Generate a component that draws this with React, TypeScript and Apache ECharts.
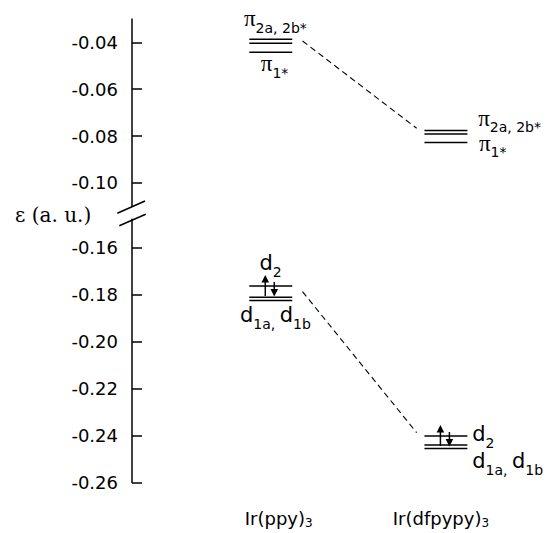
import React, { useEffect, useRef } from "react";
import * as echarts from "echarts";

// ---------- data ----------
const moleculeNames = ["Ir(ppy)", "Ir(dfpypy)"];
const moleculeSubscripts = ["3", "3"];
// π* levels (π2a, π2b, π1*) in a.u.
const piLevelsPpy = [-0.0387, -0.0404, -0.0442];
const piLevelsDfpypy = [-0.0776, -0.0791, -0.0828];
// d levels (d2, d1a, d1b) in a.u.
const dLevelsPpy = [-0.1764, -0.1812, -0.1826];
const dLevelsDfpypy = [-0.2402, -0.244, -0.2455];
// dashed correlation lines (start, end energy)
const piConnector = [-0.0394, -0.0767];
const dConnector = [-0.1788, -0.2388];
// axis ticks
const upperTicks = [-0.1, -0.08, -0.06, -0.04];
const lowerTicks = [-0.26, -0.24, -0.22, -0.2, -0.18, -0.16];
const yAxisName = "ε (a. u.)";

// ---------- layout ----------
const FONT = "DejaVu Sans";
const MOL_X = [33.2, 75.1];
const LABEL_X = [35.1, 73.9];
const LEVEL_HALF = 5.14;
const CONN_GAP_L = 7.6;
const CONN_GAP_R = 7.0;

const piSets = [piLevelsPpy, piLevelsDfpypy];
const dSets = [dLevelsPpy, dLevelsDfpypy];

const piLabelSpecs = [
  { mol: 0, level: 0, text: "{p|π}{s|2a, 2b*}", dx: -26.8, dy: -20.6 },
  { mol: 0, level: 2, text: "{p|π}{s|1*}", dx: -10, dy: 11.4 },
  { mol: 1, level: 0, text: "{p|π}{s|2a, 2b*}", dx: 32.3, dy: -12 },
  { mol: 1, level: 2, text: "{p|π}{s|1*}", dx: 33, dy: 0.5 },
];
const dLabelSpecs = [
  { mol: 0, level: 0, text: "{m|d}{s|2}", dx: -11.3, dy: -23.3 },
  { mol: 0, level: 2, text: "{m|d}{s|1a, }{m|d}{s|1b}", dx: -30.8, dy: 14.7 },
  { mol: 1, level: 0, text: "{m|d}{s|2}", dx: 26.3, dy: -1.6 },
  { mol: 1, level: 2, text: "{m|d}{s|1a, }{m|d}{s|1b}", dx: 26.3, dy: 12.5 },
];

const RICH: any = {
  p: { fontSize: 23, lineHeight: 32, fontFamily: "Liberation Serif", fill: "#000" },
  m: { fontSize: 21, lineHeight: 32, fontFamily: FONT, fill: "#000" },
  s: { fontSize: 14, lineHeight: 14, verticalAlign: "bottom", fontFamily: FONT, fill: "#000" },
};

const levelSeries = (sets: number[][], idx: number) => ({
  type: "custom",
  xAxisIndex: idx,
  yAxisIndex: idx,
  silent: true,
  data: sets.flatMap((lv, m) => lv.map((e) => [m, e])),
  renderItem: (_p: any, api: any) => {
    const m = api.value(0);
    const e = api.value(1);
    const a = api.coord([MOL_X[m] - LEVEL_HALF, e]);
    const b = api.coord([MOL_X[m] + LEVEL_HALF, e]);
    return {
      type: "line",
      shape: { x1: a[0], y1: a[1], x2: b[0], y2: b[1] },
      style: { stroke: "#000", lineWidth: 1.5 },
    };
  },
});

const labelSeries = (sets: number[][], specs: any[], idx: number) => ({
  type: "custom",
  xAxisIndex: idx,
  yAxisIndex: idx,
  silent: true,
  data: specs.map((s) => [s.mol, sets[s.mol][s.level]]),
  renderItem: (p: any, api: any) => {
    const s = specs[p.dataIndex];
    const c = api.coord([MOL_X[s.mol], api.value(1)]);
    return {
      type: "text",
      x: c[0] + s.dx,
      y: c[1] + s.dy,
      style: {
        text: s.text,
        rich: RICH,
        fill: "#000",
        fontFamily: FONT,
        align: "left",
        verticalAlign: "middle",
      },
    };
  },
});

const connectorSeries = (vals: number[], idx: number) => ({
  type: "line",
  xAxisIndex: idx,
  yAxisIndex: idx,
  silent: true,
  symbol: "none",
  lineStyle: { color: "#000", width: 1.1, type: [6, 4] },
  data: [
    [MOL_X[0] + CONN_GAP_L, vals[0]],
    [MOL_X[1] - CONN_GAP_R, vals[1]],
  ],
});

const electronSeries = {
  type: "custom",
  xAxisIndex: 1,
  yAxisIndex: 1,
  silent: true,
  data: dSets.map((lv, m) => [m, lv[0]]),
  renderItem: (_p: any, api: any) => {
    const m = api.value(0);
    const c = api.coord([MOL_X[m], api.value(1)]);
    const ux = c[0] - 5.5;
    const dx = c[0] + 3.5;
    const y = c[1];
    const st = { stroke: "#000", lineWidth: 1.5 };
    return {
      type: "group",
      children: [
        { type: "line", shape: { x1: ux, y1: y + 10, x2: ux, y2: y - 4 }, style: st },
        {
          type: "polygon",
          shape: { points: [[ux, y - 11], [ux - 3.8, y - 3.5], [ux + 3.8, y - 3.5]] },
          style: { fill: "#000" },
        },
        { type: "line", shape: { x1: dx, y1: y - 4, x2: dx, y2: y + 4 }, style: st },
        {
          type: "polygon",
          shape: { points: [[dx, y + 10.5], [dx - 3.8, y + 3], [dx + 3.8, y + 3]] },
          style: { fill: "#000" },
        },
      ],
    };
  },
};

const yAxisCfg = (idx: number, min: number, max: number, ticks: number[]) => ({
  type: "value",
  gridIndex: idx,
  min,
  max,
  axisLine: { show: true, onZero: false, lineStyle: { color: "#000", width: 1.5 } },
  axisTick: {
    show: true,
    inside: true,
    length: 10,
    customValues: ticks,
    lineStyle: { color: "#000", width: 1.5 },
  },
  axisLabel: {
    customValues: ticks,
    formatter: (v: number) => v.toFixed(2),
    color: "#000",
    fontSize: 18,
    fontFamily: FONT,
    margin: 14,
  },
  splitLine: { show: false },
});

export default function App() {
  const ref = useRef<HTMLDivElement>(null);
  useEffect(() => {
    const chart = echarts.init(ref.current!, null, { renderer: "svg" });
    const option: any = {
      animation: false,
      backgroundColor: "#fff",
      grid: [
        { left: 132, width: 418, top: 19, height: 187.2, outerBoundsMode: "none" },
        { left: 132, width: 418, top: 219.3, height: 263.2, outerBoundsMode: "none" },
      ],
      xAxis: [
        { type: "value", gridIndex: 0, min: 0, max: 100, show: false },
        {
          type: "value",
          gridIndex: 1,
          min: 0,
          max: 100,
          axisLine: { show: false, onZero: false },
          axisTick: { show: false },
          splitLine: { show: false },
          axisLabel: {
            customValues: LABEL_X,
            margin: 26,
            formatter: (v: number) => {
              let best = 0;
              LABEL_X.forEach((x, i) => {
                if (Math.abs(x - v) < Math.abs(LABEL_X[best] - v)) best = i;
              });
              return `{m|${moleculeNames[best]}}{s|${moleculeSubscripts[best]}}`;
            },
            rich: {
              m: { fontSize: 18, lineHeight: 20, fontFamily: FONT, color: "#000" },
              s: { fontSize: 12, lineHeight: 12, verticalAlign: "bottom", fontFamily: FONT, color: "#000" },
            },
          },
        },
      ],
      yAxis: [yAxisCfg(0, -0.11, -0.03, upperTicks), yAxisCfg(1, -0.26, -0.148, lowerTicks)],
      graphic: [
        {
          type: "text",
          x: 15,
          y: 215,
          style: {
            text: yAxisName,
            fontSize: 20,
            fontFamily: "DejaVu Serif",
            fill: "#000",
            align: "left",
            verticalAlign: "middle",
          },
        },
        {
          type: "line",
          shape: { x1: 117.3, y1: 213.3, x2: 145, y2: 201 },
          style: { stroke: "#000", lineWidth: 1.5 },
        },
        {
          type: "line",
          shape: { x1: 119.3, y1: 225.7, x2: 145.7, y2: 214.3 },
          style: { stroke: "#000", lineWidth: 1.5 },
        },
      ],
      series: [
        levelSeries(piSets, 0),
        levelSeries(dSets, 1),
        electronSeries,
        labelSeries(piSets, piLabelSpecs, 0),
        labelSeries(dSets, dLabelSpecs, 1),
        connectorSeries(piConnector, 0),
        connectorSeries(dConnector, 1),
      ],
    };
    chart.setOption(option);
    return () => chart.dispose();
  }, []);
  return (
    <div
      ref={ref}
      style={{ position: "fixed", left: 0, top: 0, width: 550, height: 533, background: "#fff" }}
    />
  );
}
